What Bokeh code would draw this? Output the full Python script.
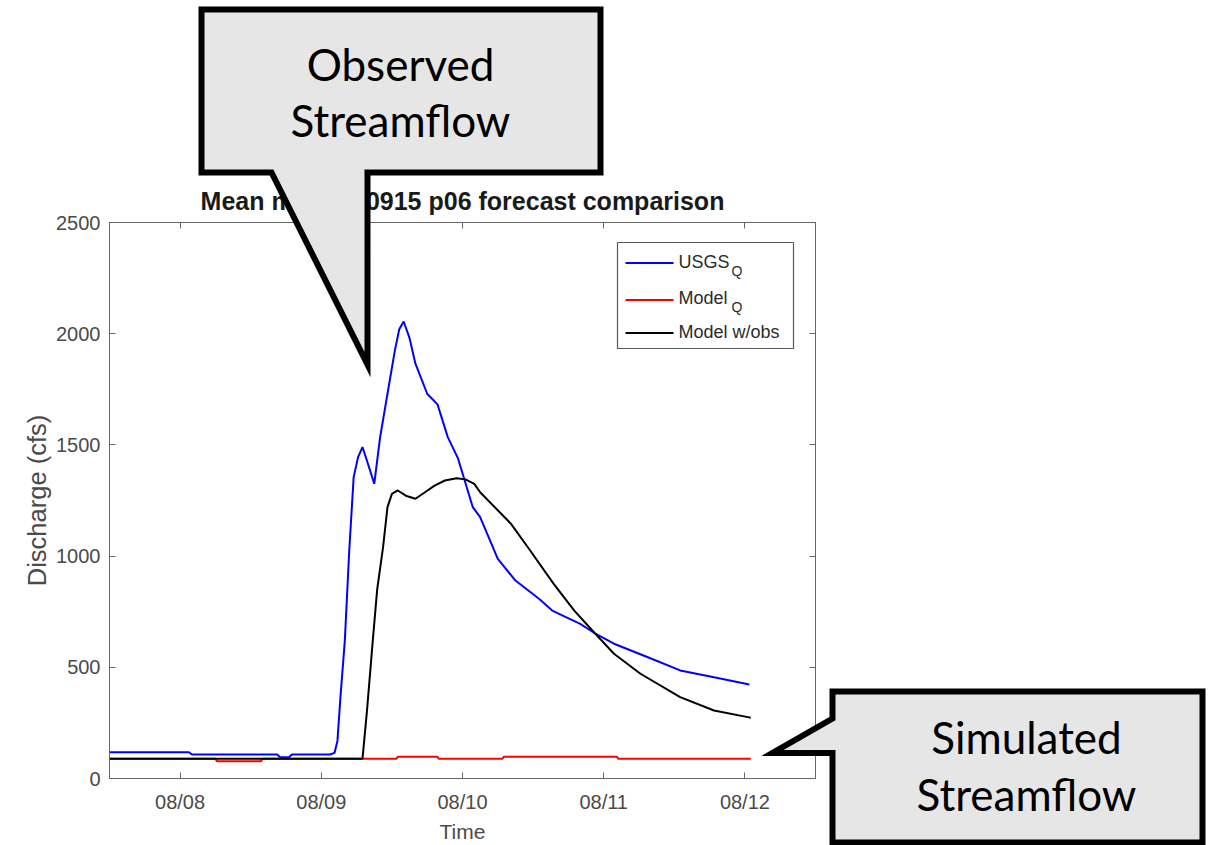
import pandas as pd
from bokeh.plotting import figure
from bokeh.models import (Range1d, FixedTicker, LinearAxis, Label, BoxAnnotation,
                          ColumnDataSource)
from bokeh.core.properties import value
from bokeh.embed import file_html
from bokeh.resources import INLINE

# ---------------- data ----------------
usgs_time = ["2013-08-07 12:00", "2013-08-08 01:30", "2013-08-08 02:00", "2013-08-08 16:30",
             "2013-08-08 17:00", "2013-08-08 18:30", "2013-08-08 19:00", "2013-08-09 01:30",
             "2013-08-09 02:15", "2013-08-09 02:45", "2013-08-09 03:15", "2013-08-09 04:00",
             "2013-08-09 04:45", "2013-08-09 05:30", "2013-08-09 06:15", "2013-08-09 07:00",
             "2013-08-09 07:45", "2013-08-09 09:00", "2013-08-09 10:00", "2013-08-09 11:15",
             "2013-08-09 12:30", "2013-08-09 13:15", "2013-08-09 14:00", "2013-08-09 15:00",
             "2013-08-09 16:00", "2013-08-09 18:00", "2013-08-09 19:45", "2013-08-09 21:30",
             "2013-08-09 23:15", "2013-08-10 01:45", "2013-08-10 03:00", "2013-08-10 06:00",
             "2013-08-10 09:00", "2013-08-10 13:00", "2013-08-10 15:15", "2013-08-10 20:00",
             "2013-08-10 22:30", "2013-08-11 01:45", "2013-08-11 07:30", "2013-08-11 13:00",
             "2013-08-11 18:45", "2013-08-12 00:45"]
usgs_q = [118, 118, 108, 108, 96, 96, 108, 108,
          115, 170, 365, 620, 1025, 1355, 1445, 1490,
          1430, 1325, 1535, 1730, 1924, 2020, 2055, 1980,
          1865, 1730, 1682, 1535, 1438, 1220, 1175, 988,
          890, 808, 755, 695, 653, 606, 545, 486,
          455, 423]

model_time = ["2013-08-07 12:00", "2013-08-08 06:00", "2013-08-08 06:15", "2013-08-08 13:45",
              "2013-08-08 14:00", "2013-08-09 12:45", "2013-08-09 13:00", "2013-08-09 19:45",
              "2013-08-09 20:00", "2013-08-10 06:45", "2013-08-10 07:00", "2013-08-11 02:15",
              "2013-08-11 02:30", "2013-08-12 01:00"]
model_q = [88.5, 88.5, 78, 78, 88.5, 88.5, 97.5, 97.5, 88.5, 88.5, 97.5, 97.5, 88.5, 88.5]

obs_time = ["2013-08-07 12:00", "2013-08-09 07:00", "2013-08-09 07:45", "2013-08-09 08:45",
            "2013-08-09 09:30", "2013-08-09 10:30", "2013-08-09 11:15", "2013-08-09 12:00",
            "2013-08-09 13:00", "2013-08-09 14:30", "2013-08-09 16:00", "2013-08-09 17:30",
            "2013-08-09 19:15", "2013-08-09 21:00", "2013-08-09 23:00", "2013-08-10 00:30",
            "2013-08-10 02:00", "2013-08-10 03:00", "2013-08-10 08:15", "2013-08-10 11:30",
            "2013-08-10 15:30", "2013-08-10 19:00", "2013-08-10 22:30", "2013-08-11 01:45",
            "2013-08-11 06:15", "2013-08-11 13:00", "2013-08-11 18:45", "2013-08-12 00:30",
            "2013-08-12 01:00"]
obs_q = [88.5, 88.5, 300, 620, 850, 1040, 1220, 1280,
         1295, 1270, 1258, 1285, 1317, 1340, 1350, 1345,
         1325, 1287, 1145, 1025, 875, 755, 653, 561,
         471, 366, 306, 276, 273]

x_tick_dates = ["2013-08-08", "2013-08-09", "2013-08-10", "2013-08-11", "2013-08-12"]
x_tick_labels = ["08/08", "08/09", "08/10", "08/11", "08/12"]
y_ticks = [0, 500, 1000, 1500, 2000, 2500]
x_start, x_end = "2013-08-07 12:00", "2013-08-12 12:00"

series_names = ["USGS", "Model", "Model w/obs"]
series_subs = ["Q", "Q", ""]
series_colors = ["#0000ff", "#ff0000", "#000000"]

title_text = "Mean model 30915 p06 forecast comparison"
x_label = "Time"
y_label = "Discharge (cfs)"
callout_texts = ["Observed", "Streamflow", "Simulated", "Streamflow"]

# ---------------- main figure ----------------
W, H = 1208, 845
def ms(s):
    return pd.Timestamp(s).value / 1e6

AX = "#666666"
TX = "#4a4a4a"
FONT = "Liberation Sans"

p = figure(width=W, height=H, x_axis_type="datetime", output_backend="svg",
           toolbar_location=None,
           x_range=Range1d(ms(x_start), ms(x_end)), y_range=Range1d(0, 2500),
           min_border_left=109, min_border_right=393, min_border_top=222,
           min_border_bottom=67)
p.background_fill_color = "white"
p.border_fill_color = "white"
p.outline_line_color = AX
p.xgrid.visible = False
p.ygrid.visible = False

tick_ms = [ms(d) for d in x_tick_dates]
xa = p.xaxis[0]
xa.ticker = FixedTicker(ticks=tick_ms)
xa.major_label_overrides = {t: l for t, l in zip(tick_ms, x_tick_labels)}
xa.major_label_standoff = 12
xa.axis_label = x_label
xa.axis_label_text_font_size = "21px"
xa.axis_label_standoff = 4
ya = p.yaxis[0]
ya.ticker = FixedTicker(ticks=y_ticks)
ya.axis_label = y_label
ya.axis_label_text_font_size = "25.5px"
ya.axis_label_standoff = 2
ya.major_label_standoff = 9

for ax in (xa, ya):
    ax.axis_line_color = AX
    ax.major_tick_line_color = AX
    ax.major_tick_in = 6
    ax.major_tick_out = 0
    ax.minor_tick_in = 0
    ax.minor_tick_out = 0
    ax.major_label_text_font = FONT
    ax.major_label_text_font_size = "20px"
    ax.major_label_text_color = TX
    ax.axis_label_text_font = FONT
    ax.axis_label_text_font_style = "normal"
    ax.axis_label_text_color = TX

right_ax = LinearAxis(ticker=FixedTicker(ticks=y_ticks), major_label_text_color=None,
                      major_label_standoff=0, axis_line_color=AX, major_tick_line_color=AX,
                      major_tick_in=6, major_tick_out=0, minor_tick_in=0, minor_tick_out=0)
p.add_layout(right_ax, "right")
top_ax = LinearAxis(ticker=FixedTicker(ticks=tick_ms), major_label_text_color=None,
                    major_label_standoff=0, axis_line_color=AX, major_tick_line_color=AX,
                    major_tick_in=6, major_tick_out=0, minor_tick_in=0, minor_tick_out=0)
p.add_layout(top_ax, "above")

p.title.text = title_text
p.title.align = "center"
p.title.text_font = FONT
p.title.text_font_size = "25px"
p.title.text_font_style = "bold"
p.title.text_color = "#1a1a1a"
p.title.standoff = 16

for t, q, c in ((usgs_time, usgs_q, series_colors[0]),
                (model_time, model_q, series_colors[1]),
                (obs_time, obs_q, series_colors[2])):
    src = ColumnDataSource(dict(t=pd.to_datetime(t), q=q))
    p.line("t", "q", source=src, line_color=c, line_width=2)

# screen positions relative to the frame (frame left = 109, bottom = 778 page pixels)
FL, FB = 109, 778
def sx(X):
    return X - FL
def sy(Y):
    return FB - Y

# legend (inside the frame); text anchors are vertically centred by the renderer
p.add_layout(BoxAnnotation(left=sx(617), right=sx(793), top=sy(242), bottom=sy(348),
                           left_units="screen", right_units="screen", top_units="screen",
                           bottom_units="screen", fill_color="white", fill_alpha=1.0,
                           line_color="#5a5a5a", line_alpha=1.0, line_width=1.2))
line_y = [262.5, 299.5, 332.5]
base_y = [267, 303.5, 337.5]
for name, sub, col, ly, by in zip(series_names, series_subs, series_colors, line_y, base_y):
    p.add_layout(BoxAnnotation(left=sx(625), right=sx(673), top=sy(ly - 1), bottom=sy(ly + 1),
                               left_units="screen", right_units="screen", top_units="screen",
                               bottom_units="screen", fill_color=col, fill_alpha=1.0,
                               line_color=None))
    p.add_layout(Label(x=sx(678), y=sy(by - 6), x_units="screen", y_units="screen", text=name,
                       text_align="left", text_baseline="alphabetic", text_font=FONT,
                       text_font_size="18px", text_color="#2b2b2b"))
    if sub:
        p.add_layout(Label(x=sx(731), y=sy(by + 8 - 5), x_units="screen", y_units="screen",
                           text=sub, text_align="left", text_baseline="alphabetic",
                           text_font=FONT, text_font_size="14px", text_color="#2b2b2b"))

# ---------------- transparent overlay for the callouts (second root) ----------------
ov = figure(width=W, height=H, output_backend="svg", toolbar_location=None,
            x_range=Range1d(0, W), y_range=Range1d(H, 0),
            x_axis_location=None, y_axis_location=None,
            min_border_left=0, min_border_right=0, min_border_top=0, min_border_bottom=0,
            background_fill_color=None, border_fill_color=None, outline_line_color=None)
ov.grid.visible = False
ov.margin = (-H, 0, 0, 0)

FILL = "#e7e6e6"
obs_xs = [201, 600, 600, 367, 367, 271, 201]
obs_ys = [9, 9, 172, 172, 364, 172, 172]
sim_xs = [832, 1202, 1202, 832, 832, 772, 832]
sim_ys = [691, 691, 842, 842, 752.5, 752.5, 718]
ov.patches([obs_xs, sim_xs], [obs_ys, sim_ys], fill_color=FILL, line_color="black",
           line_width=6, line_join="miter")
text_shift = 19
ov.text(x=[400, 400, 1026, 1026], y=[82 - text_shift, 138 - text_shift,
                                      755 - text_shift, 812 - text_shift],
        text=callout_texts, text_font=value("Lato"), text_font_size=value("44px"),
        text_align="center", text_baseline="alphabetic", text_color="black")

open("out.html", "w").write(file_html([p, ov], INLINE))
